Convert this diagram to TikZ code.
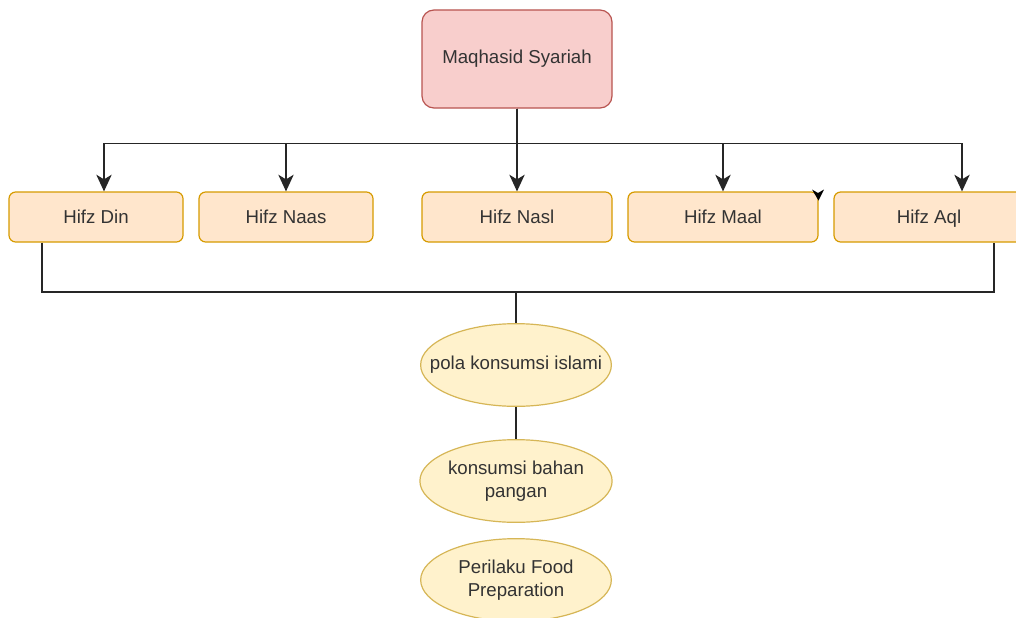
\documentclass[tikz,border=0pt]{standalone}
\usepackage{fontspec}
\setmainfont{Liberation Sans}
\usepackage{xcolor}
\usetikzlibrary{arrows.meta, shapes.geometric}
\usetikzlibrary{positioning}

\definecolor{maqfill}{HTML}{F8CECC}
\definecolor{maqline}{HTML}{B85450}
\definecolor{hifzfill}{HTML}{FFE6CC}
\definecolor{hifzline}{HTML}{D79B00}
\definecolor{polafill}{HTML}{FFF2CC}
\definecolor{polaline}{HTML}{D6B656}
\definecolor{txt}{HTML}{333333}

\tikzset{
	maqbox/.style={draw=maqline, fill=maqfill, line width=0.9pt, rounded corners=9pt,
		minimum width=142.5pt, minimum height=73.5pt, text=txt},
	hifzbox/.style={draw=hifzline, fill=hifzfill, line width=0.9pt, rounded corners=5pt,
		minimum height=37.5pt, text height=12pt, text depth=2pt, text=txt},
	polabubble/.style={ellipse, draw=polaline, fill=polafill, line width=0.9pt,
		minimum width=143pt, minimum height=62pt, inner sep=0pt, align=center, text=txt},
	link/.style={draw=black!85, line width=1.2pt},
	arr/.style={link, -{Stealth[length=12.5pt, width=11.5pt, inset=3.5pt]}}
}

\begin{document}
\begin{tikzpicture}[x=0.75pt, y=-0.75pt, font=\fontsize{14}{17.5}\selectfont]
		\path[use as bounding box, clip] (0,0) rectangle (1016,617);
		\fill[white] (0,0) rectangle (1016,617);
		
		% top
		\node[maqbox] (maq) at (517,59) {Maqhasid Syariah};
		
		% row of hifz
		\node[hifzbox, minimum width=130.5pt] (din) at (96,217) {Hifz Din};
		\node[hifzbox, minimum width=130.5pt] (naas) at (286,217) {Hifz Naas};
		\node[hifzbox, minimum width=142.5pt] (nasl) at (517,217) {Hifz Nasl};
		\node[hifzbox, minimum width=142.5pt] (maal) at (723,217) {Hifz Maal};
		\node[hifzbox, minimum width=142.5pt] (aql) at (929,217) {Hifz Aql};
		
		\draw[arr] (maq.south) -- (nasl.north);
		\draw[arr] (maq.south) -- ++(0,35) -| ([xshift=6pt]din.north);
		\draw[arr] (maq.south) -- ++(0,35) -| (naas.north);
		\draw[arr] (maq.south) -- ++(0,35) -| (maal.north);
		\draw[arr] (maq.south) -- ++(0,35) -| ([xshift=24.75pt]aql.north);
		\fill[black] (812,189.5) -- (818,193) -- (824,189.5) -- (818.5,200.5) -- cycle;
		
		% bottom
		\coordinate (bus) at (516,292);
		\node[polabubble, inner xsep=-14pt] (pola) at (516,365) {pola konsumsi islami};
		\node[polabubble] (bahan) at (516,481) {konsumsi bahan\\pangan};
		\node[polabubble] (prep) at (516,580) {Perilaku Food\\Preparation};
		
		\draw[link] ([xshift=-40.5pt]din.south) |- (bus) -| ([xshift=48.75pt]aql.south);
		\draw[link] (bus) -- (pola.north);
		\draw[link] (pola.south) -- (bahan.north);
	\end{tikzpicture}
\end{document}
